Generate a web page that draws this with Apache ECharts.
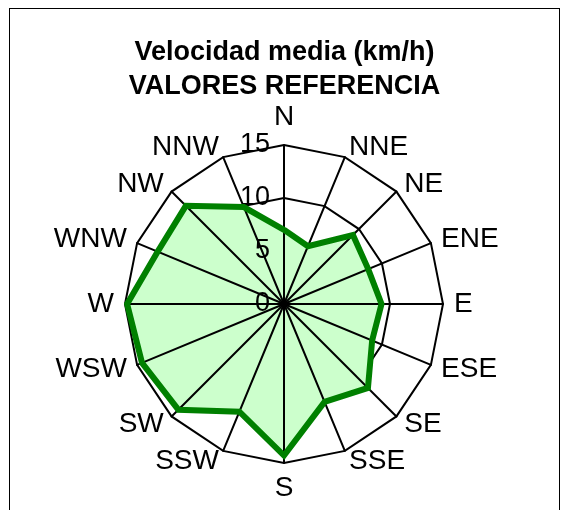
<!DOCTYPE html>
<html>
<head>
<meta charset="utf-8">
<script src="https://cdn.jsdelivr.net/npm/echarts@6/dist/echarts.min.js"></script>
<style>
html,body{margin:0;padding:0;background:#fff;}
#frame{position:absolute;left:9px;top:8px;width:551px;height:520px;border:1px solid #000;box-sizing:border-box;}
#chart{position:absolute;left:0;top:0;width:569px;height:510px;}
</style>
</head>
<body>
<div id="frame"></div>
<div id="chart"></div>
<script>
// Data (compass order, clockwise from N)
const directions = ['N','NNE','NE','ENE','E','ESE','SE','SSE','S','SSW','SW','WSW','W','WNW','NW','NNW'];
const speeds     = [7.0, 5.9, 9.2, 8.6, 9.2, 9.0, 11.2, 10.0, 14.3, 11.0, 14.1, 14.5, 14.8, 12.9, 13.1, 9.9];
const titleLines = ['Velocidad media (km/h)', 'VALORES REFERENCIA'];
const axisMax = 15;
const axisStep = 5;

// ECharts places indicators counter-clockwise: reorder N, NNW, NW, ...
const order = [0].concat(directions.slice(1).map((d, i) => directions.length - 1 - i));
const FONT = 'Liberation Sans, Arial, sans-serif';

const indicatorsBase = order.map(i => ({ name: directions[i], max: axisMax, min: 0 }));
const indicatorsTop = order.map((i, k) => ({
  name: directions[i], max: axisMax, min: 0,
  axisLabel: { show: k === 0 }
}));
const values = order.map(i => speeds[i]);

const chart = echarts.init(document.getElementById('chart'), null, { renderer: 'canvas' });
const common = {
  center: [284, 304],
  radius: 159,
  shape: 'polygon',
  splitNumber: axisMax / axisStep,
  startAngle: 90
};
chart.setOption({
  animation: false,
  title: {
    text: titleLines.join('\n'),
    left: 'center',
    top: 31,
    textStyle: { fontFamily: FONT, fontSize: 27, fontWeight: 'bold', color: '#000', lineHeight: 34 }
  },
  radar: [
    Object.assign({}, common, {
      z: 1,
      indicator: indicatorsBase,
      axisName: { show: false },
      axisLine: { show: false },
      axisTick: { show: false },
      axisLabel: { show: false },
      splitArea: { show: false },
      splitLine: { show: true, lineStyle: { color: '#000', width: 2 } }
    }),
    Object.assign({}, common, {
      z: 3,
      indicator: indicatorsTop,
      nameGap: 11,
      axisName: { show: true, color: '#000', fontFamily: FONT, fontSize: 28 },
      axisLine: { show: true, lineStyle: { color: '#000', width: 2 } },
      axisTick: { show: false },
      axisLabel: { show: false, color: '#000', fontFamily: FONT, fontSize: 27, margin: 14 },
      splitArea: { show: false },
      splitLine: { show: false }
    })
  ],
  series: [{
    type: 'radar',
    radarIndex: 0,
    z: 2,
    symbol: 'none',
    silent: true,
    lineStyle: { width: 0, opacity: 0 },
    areaStyle: { color: '#ccffcc', opacity: 1 },
    data: [{ value: values }]
  }, {
    type: 'radar',
    radarIndex: 0,
    z: 4,
    symbol: 'none',
    silent: true,
    lineStyle: { color: '#008000', width: 6, join: 'miter' },
    data: [{ value: values }]
  }]
});
</script>
</body>
</html>
